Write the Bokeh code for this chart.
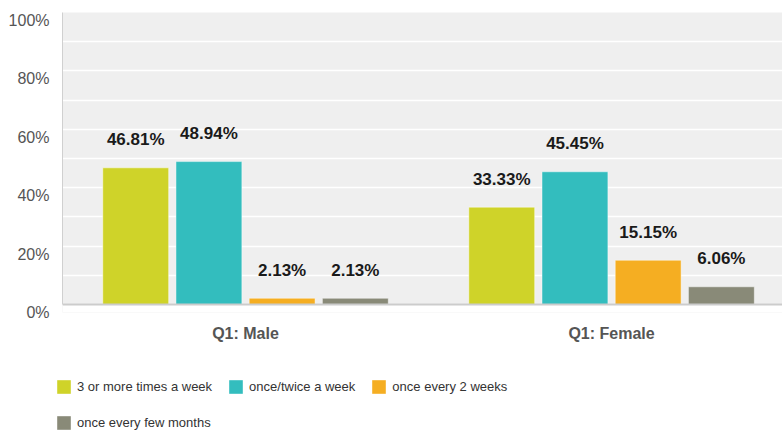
from bokeh.plotting import figure
from bokeh.layouts import column
from bokeh.models import (Range1d, FixedTicker, ColumnDataSource, Legend, LegendItem,
                          LinearAxis, BoxAnnotation, Span)
from bokeh.core.properties import value
from bokeh.embed import file_html
from bokeh.resources import INLINE

categories = ["Q1: Male", "Q1: Female"]
series = ["3 or more times a week", "once/twice a week", "once every 2 weeks", "once every few months"]
values_3plus = [46.81, 33.33]
values_oncetwice = [48.94, 45.45]
values_every2 = [2.13, 15.15]
values_fewmonths = [2.13, 6.06]
y_ticks = [0, 20, 40, 60, 80, 100]
y_tick_labels = ["0%", "20%", "40%", "60%", "80%", "100%"]
grid_ticks = [0, 10, 20, 30, 40, 50, 60, 70, 80, 90, 100]

colors = ["#CFD329", "#33BDBE", "#F5AE22", "#898A78"]
all_values = [values_3plus, values_oncetwice, values_every2, values_fewmonths]

FONT = "Liberation Sans"
PX_PER_UNIT = 2.92          # 100 % -> 292 px
LABEL_DROP = 8 / PX_PER_UNIT  # tick labels sit 8px below their grid lines

p = figure(width=782, height=358, output_backend="svg", toolbar_location=None,
           x_range=Range1d(-0.5, 1.467), y_range=Range1d(-LABEL_DROP, 100),
           min_border_left=62, min_border_right=0, min_border_top=12, min_border_bottom=46)
p.extra_y_ranges = {"lab": Range1d(0, 100 + LABEL_DROP)}
p.background_fill_color = "#EFEFEF"
p.border_fill_color = "white"
p.outline_line_color = None

# white strip under the baseline (frame extends a little below 0)
p.add_layout(BoxAnnotation(top=0, fill_color="white", fill_alpha=1, line_color=None, level="underlay"))

p.xgrid.visible = False
p.ygrid.ticker = FixedTicker(ticks=grid_ticks)
p.ygrid.grid_line_color = "white"
p.ygrid.grid_line_width = 1.5

# primary y axis: only the left border line
p.yaxis.ticker = FixedTicker(ticks=[])
p.yaxis.bounds = (0, 100)
p.yaxis.major_tick_line_color = None
p.yaxis.minor_tick_line_color = None
p.yaxis.axis_line_color = "#D0D0D0"
p.yaxis.axis_line_width = 1

# label axis
lab_axis = LinearAxis(y_range_name="lab", ticker=FixedTicker(ticks=y_ticks),
                      major_label_overrides={t: l for t, l in zip(y_ticks, y_tick_labels)},
                      major_label_text_font=FONT, major_label_text_font_size="16px",
                      major_label_text_color="#555555", major_label_standoff=7,
                      major_tick_line_color=None, minor_tick_line_color=None,
                      axis_line_color=None)
p.add_layout(lab_axis, "left")

p.xaxis.ticker = FixedTicker(ticks=list(range(len(categories))))
p.xaxis.major_label_overrides = {i: c for i, c in enumerate(categories)}
p.xaxis.major_label_text_font = FONT
p.xaxis.major_label_text_font_style = "bold"
p.xaxis.major_label_text_font_size = "16px"
p.xaxis.major_label_text_color = "#555555"
p.xaxis.major_label_standoff = 6
p.xaxis.major_tick_line_color = None
p.xaxis.minor_tick_line_color = None
p.xaxis.axis_line_color = None

p.add_layout(Span(location=0, dimension="width", line_color="#CCCCCC", line_width=2))

# legend figure
p2 = figure(width=782, height=75, output_backend="svg", toolbar_location=None,
            x_range=Range1d(0, 1), y_range=Range1d(0, 1),
            x_axis_location=None, y_axis_location=None,
            min_border_left=55, min_border_right=0, min_border_top=0, min_border_bottom=0)
p2.outline_line_color = None
p2.grid.visible = False
p2.background_fill_color = "white"
p2.border_fill_color = "white"

bar_w = 0.18
items = []
for i, (name, vals, col) in enumerate(zip(series, all_values, colors)):
    off = (i - 1.5) * 0.2
    xs = [g + off for g in range(len(categories))]
    src = ColumnDataSource(dict(x=xs, top=vals, lab=[f"{v:.2f}%" for v in vals]))
    p.vbar(x="x", top="top", width=bar_w, bottom=0, source=src,
           fill_color=col, line_color="white", line_alpha=0.45, line_width=1)
    p.text(x="x", y="top", text="lab", source=src, text_align="center",
           text_baseline="middle", y_offset=-28, text_font=value(FONT),
           text_font_style="bold", text_font_size="17px", text_color="#1A1A1A")
    # legend swatch renderer (zero-area, only used for the legend swatch)
    lr = p2.vbar(x=[0.5], top=[0], bottom=[0], width=0, fill_color=col, line_color=None)
    items.append(LegendItem(label=name, renderers=[lr]))

common = dict(orientation="horizontal", glyph_width=17, glyph_height=17, label_standoff=5,
              spacing=15, padding=0, margin=0, border_line_color=None, background_fill_alpha=0,
              label_text_font=FONT, label_text_font_size="13px", label_text_color="#333333",
              label_height=17, label_text_baseline="middle")
legA = Legend(items=items[:3], location=(0, 38), **common)
legB = Legend(items=items[3:], location=(0, 2), **common)
p2.add_layout(legA, "center")
p2.add_layout(legB, "center")

open("out.html", "w").write(file_html(column(p, column(p2)), INLINE))
